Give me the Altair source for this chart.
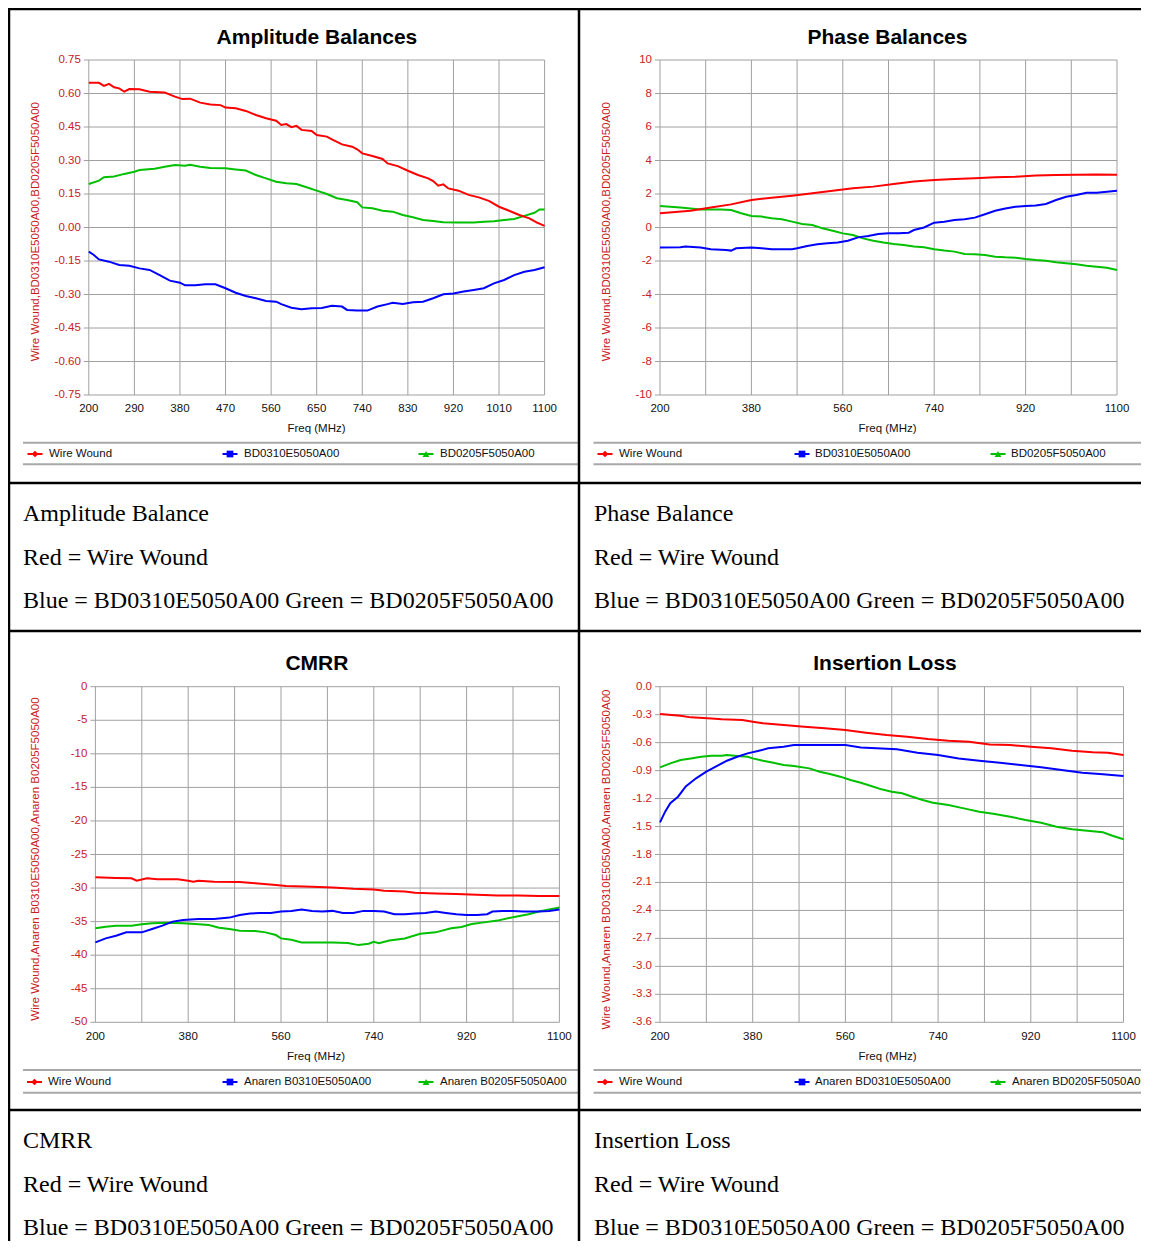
import altair as alt
import pandas as pd

# ---------------- data (frequency MHz, value) ----------------
FREQ_DOMAIN = [200, 1100]
X_GRID = [200, 290, 380, 470, 560, 650, 740, 830, 920, 1010, 1100]
AB_X_LABELS = [200, 290, 380, 470, 560, 650, 740, 830, 920, 1010, 1100]
WIDE_X_LABELS = [200, 380, 560, 740, 920, 1100]

AB_Y_TICKS = [-0.75, -0.60, -0.45, -0.30, -0.15, 0.0, 0.15, 0.30, 0.45, 0.60, 0.75]
PB_Y_TICKS = [-10, -8, -6, -4, -2, 0, 2, 4, 6, 8, 10]
CM_Y_TICKS = [-50, -45, -40, -35, -30, -25, -20, -15, -10, -5, 0]
IL_Y_TICKS = [-3.6, -3.3, -3.0, -2.7, -2.4, -2.1, -1.8, -1.5, -1.2, -0.9, -0.6, -0.3, 0.0]

AB_WIRE = [(200, 0.648), (220, 0.648), (230, 0.634), (240, 0.643), (250, 0.628), (260, 0.623),
           (270, 0.608), (280, 0.62), (300, 0.619), (320, 0.608), (350, 0.604), (370, 0.586),
           (385, 0.575), (400, 0.577), (420, 0.559), (440, 0.551), (460, 0.548), (470, 0.537),
           (490, 0.534), (510, 0.522), (530, 0.504), (550, 0.489), (570, 0.478), (580, 0.459),
           (590, 0.463), (600, 0.449), (610, 0.455), (620, 0.437), (640, 0.432), (650, 0.414),
           (670, 0.407), (680, 0.395), (700, 0.372), (720, 0.362), (730, 0.35), (740, 0.332),
           (760, 0.32), (780, 0.307), (790, 0.287), (810, 0.275), (830, 0.254), (850, 0.235),
           (870, 0.22), (880, 0.208), (890, 0.187), (900, 0.193), (910, 0.175), (930, 0.165),
           (950, 0.146), (970, 0.135), (990, 0.119), (1010, 0.093), (1030, 0.075), (1050, 0.056),
           (1070, 0.041), (1085, 0.022), (1100, 0.007)]
AB_BD0310 = [(200, -0.108), (210, -0.123), (220, -0.143), (240, -0.153), (260, -0.168), (280, -0.171),
             (300, -0.183), (320, -0.19), (340, -0.213), (360, -0.238), (380, -0.247), (390, -0.259),
             (410, -0.259), (430, -0.254), (450, -0.254), (470, -0.272), (490, -0.292), (510, -0.307),
             (530, -0.317), (550, -0.329), (570, -0.332), (580, -0.343), (600, -0.359), (620, -0.366),
             (640, -0.362), (660, -0.36), (680, -0.35), (700, -0.354), (710, -0.369), (730, -0.372),
             (750, -0.372), (770, -0.354), (790, -0.343), (800, -0.337), (820, -0.343), (840, -0.335),
             (860, -0.332), (880, -0.317), (900, -0.299), (920, -0.295), (940, -0.287), (960, -0.28),
             (980, -0.272), (1000, -0.25), (1020, -0.235), (1040, -0.213), (1060, -0.198),
             (1080, -0.19), (1100, -0.178)]
AB_BD0205 = [(200, 0.195), (220, 0.21), (230, 0.225), (250, 0.228), (270, 0.24), (290, 0.25),
             (300, 0.257), (330, 0.263), (350, 0.272), (370, 0.28), (390, 0.277), (400, 0.281),
             (420, 0.272), (440, 0.266), (470, 0.265), (490, 0.26), (510, 0.255), (530, 0.235),
             (550, 0.22), (570, 0.205), (590, 0.198), (610, 0.195), (630, 0.18), (650, 0.165),
             (670, 0.15), (690, 0.131), (710, 0.123), (730, 0.113), (740, 0.09), (760, 0.086),
             (780, 0.075), (800, 0.071), (820, 0.056), (840, 0.046), (860, 0.034), (880, 0.029),
             (900, 0.023), (930, 0.022), (960, 0.022), (980, 0.026), (1000, 0.028), (1020, 0.034),
             (1040, 0.038), (1060, 0.052), (1080, 0.066), (1090, 0.081), (1100, 0.081)]

PB_WIRE = [(200, 0.85), (260, 1.0), (300, 1.2), (340, 1.38), (380, 1.64), (420, 1.78), (460, 1.9),
           (500, 2.04), (540, 2.2), (580, 2.34), (620, 2.44), (660, 2.6), (700, 2.74), (740, 2.84),
           (780, 2.9), (820, 2.94), (860, 3.0), (900, 3.03), (940, 3.1), (980, 3.13), (1020, 3.15),
           (1060, 3.17), (1100, 3.15)]
PB_BD0310 = [(200, -1.2), (240, -1.18), (250, -1.14), (280, -1.2), (300, -1.3), (330, -1.34),
             (340, -1.38), (350, -1.24), (380, -1.2), (400, -1.24), (420, -1.3), (460, -1.3),
             (470, -1.24), (490, -1.1), (510, -1.0), (530, -0.94), (550, -0.9), (570, -0.79),
             (590, -0.59), (610, -0.51), (630, -0.39), (650, -0.35), (670, -0.35), (690, -0.31),
             (700, -0.15), (720, 0.0), (740, 0.29), (760, 0.35), (780, 0.45), (800, 0.49),
             (820, 0.59), (840, 0.79), (860, 1.0), (880, 1.14), (900, 1.24), (920, 1.28),
             (940, 1.32), (960, 1.4), (980, 1.64), (1000, 1.84), (1020, 1.94), (1040, 2.08),
             (1060, 2.08), (1080, 2.14), (1100, 2.2)]
PB_BD0205 = [(200, 1.28), (240, 1.2), (280, 1.08), (320, 1.08), (340, 1.04), (360, 0.85),
             (380, 0.69), (400, 0.65), (420, 0.55), (440, 0.49), (460, 0.35), (480, 0.21),
             (500, 0.15), (520, -0.05), (540, -0.19), (560, -0.35), (580, -0.45), (600, -0.65),
             (620, -0.79), (640, -0.9), (660, -0.98), (680, -1.04), (700, -1.14), (720, -1.18),
             (740, -1.3), (760, -1.38), (780, -1.44), (800, -1.58), (820, -1.6), (840, -1.64),
             (860, -1.74), (880, -1.78), (900, -1.8), (920, -1.88), (940, -1.94), (960, -1.98),
             (980, -2.08), (1000, -2.14), (1020, -2.2), (1040, -2.28), (1060, -2.34),
             (1080, -2.4), (1100, -2.54)]

CM_WIRE = [(200, -28.4), (240, -28.5), (270, -28.55), (280, -28.9), (300, -28.55), (320, -28.7),
           (360, -28.7), (380, -28.9), (390, -29.05), (400, -28.9), (430, -29.05), (480, -29.1),
           (510, -29.3), (550, -29.55), (570, -29.7), (620, -29.8), (660, -29.9), (700, -30.1),
           (740, -30.2), (760, -30.4), (800, -30.5), (820, -30.7), (860, -30.8), (900, -30.9),
           (940, -31.0), (980, -31.1), (1020, -31.1), (1060, -31.2), (1100, -31.2)]
CM_B0310 = [(200, -38.1), (220, -37.5), (240, -37.1), (260, -36.6), (290, -36.6), (310, -36.1),
            (330, -35.6), (350, -35.0), (370, -34.75), (400, -34.6), (430, -34.6), (460, -34.4),
            (480, -34.0), (500, -33.8), (520, -33.7), (540, -33.7), (560, -33.5), (580, -33.4),
            (600, -33.2), (620, -33.4), (640, -33.5), (660, -33.4), (680, -33.7), (700, -33.7),
            (720, -33.4), (740, -33.4), (760, -33.5), (780, -33.9), (800, -33.9), (820, -33.8),
            (840, -33.7), (860, -33.5), (880, -33.7), (900, -33.9), (920, -34.0), (940, -34.0),
            (960, -33.9), (970, -33.5), (990, -33.4), (1010, -33.4), (1030, -33.5), (1060, -33.5),
            (1080, -33.4), (1100, -33.2)]
CM_B0205 = [(200, -36.0), (220, -35.75), (240, -35.6), (270, -35.6), (290, -35.4), (310, -35.25),
            (340, -35.15), (370, -35.25), (400, -35.4), (420, -35.5), (440, -35.9), (460, -36.1),
            (480, -36.35), (510, -36.4), (530, -36.6), (550, -37.0), (560, -37.5), (580, -37.7),
            (600, -38.1), (620, -38.1), (660, -38.1), (690, -38.2), (710, -38.5), (730, -38.3),
            (740, -38.0), (750, -38.2), (770, -37.8), (800, -37.5), (830, -36.8), (860, -36.6),
            (890, -36.0), (910, -35.8), (930, -35.35), (950, -35.15), (980, -34.85), (1000, -34.5),
            (1020, -34.2), (1040, -33.9), (1060, -33.5), (1080, -33.2), (1100, -32.9)]

IL_WIRE = [(200, -0.293), (240, -0.311), (260, -0.329), (300, -0.34), (320, -0.35), (360, -0.358),
           (380, -0.375), (400, -0.393), (440, -0.411), (480, -0.429), (520, -0.447), (560, -0.465),
           (600, -0.493), (640, -0.518), (680, -0.536), (720, -0.561), (760, -0.579), (800, -0.59),
           (840, -0.619), (880, -0.626), (920, -0.644), (960, -0.661), (1000, -0.686),
           (1040, -0.704), (1070, -0.708), (1100, -0.733)]
IL_BD0310 = [(200, -1.455), (210, -1.34), (220, -1.25), (235, -1.18), (250, -1.07), (270, -0.983),
             (290, -0.912), (310, -0.851), (330, -0.794), (350, -0.751), (370, -0.715), (390, -0.69),
             (410, -0.661), (440, -0.644), (460, -0.626), (560, -0.626), (590, -0.651),
             (620, -0.661), (660, -0.672), (700, -0.708), (740, -0.733), (780, -0.769),
             (820, -0.794), (860, -0.815), (900, -0.84), (940, -0.865), (980, -0.894),
             (1020, -0.922), (1060, -0.94), (1100, -0.958)]
IL_BD0205 = [(200, -0.865), (220, -0.822), (240, -0.787), (260, -0.769), (280, -0.751), (300, -0.74),
             (320, -0.74), (330, -0.733), (350, -0.744), (370, -0.751), (380, -0.769), (400, -0.794),
             (420, -0.815), (440, -0.84), (460, -0.851), (490, -0.876), (510, -0.912), (530, -0.937),
             (550, -0.965), (570, -1.001), (590, -1.03), (610, -1.065), (630, -1.101), (650, -1.126),
             (670, -1.144), (690, -1.18), (710, -1.216), (730, -1.244), (760, -1.269), (790, -1.305),
             (820, -1.341), (850, -1.366), (880, -1.394), (910, -1.43), (940, -1.459), (970, -1.502),
             (1000, -1.53), (1030, -1.545), (1060, -1.562), (1080, -1.602), (1100, -1.637)]

# ---------------- styling / layout ----------------
OFF = 8                    # page margin: page coordinates -> canvas coordinates
W, H = 1133, 1233
FONT = "Liberation Sans"
SERIF = "Liberation Serif"
RED_TXT = "#c8201e"
GRID = "#a0a0a0"
LEG_LINE = "#a8a8a8"
C_RED, C_BLUE, C_GREEN = "#ff0000", "#0000ff", "#00c000"
SMALL = 11.5
ONE = pd.DataFrame({"k": [0]})

PANELS = [
    dict(title="Amplitude Balances", plot=(88.8, 544.6, 60, 395), ydom=[-0.75, 0.75],
         yticks=AB_Y_TICKS, yfmt=".2f", xlabels=AB_X_LABELS, title_x=316.9, title_y=37.5,
         xlab_y=408.5, xtitle_x=316.5, xtitle_y=428.5, ytitle_x=36, ytitle_y=231.7,
         ytitle="Wire Wound,BD0310E5050A00,BD0205F5050A00",
         series=[(AB_BD0205, C_GREEN), (AB_BD0310, C_BLUE), (AB_WIRE, C_RED)],
         leg=dict(top=442.7, bot=464.3, x0=23, x1=578, y=454,
                  items=[(35, 49, C_RED, "diamond", "Wire Wound"),
                         (230, 244, C_BLUE, "square", "BD0310E5050A00"),
                         (426, 440, C_GREEN, "triangle-up", "BD0205F5050A00")])),
    dict(title="Phase Balances", plot=(660, 1117, 60, 395), ydom=[-10, 10],
         yticks=PB_Y_TICKS, yfmt="d", xlabels=WIDE_X_LABELS, title_x=887.5, title_y=37.5,
         xlab_y=408.5, xtitle_x=887.5, xtitle_y=428.5, ytitle_x=607, ytitle_y=231.7,
         ytitle="Wire Wound,BD0310E5050A00,BD0205F5050A00",
         series=[(PB_BD0205, C_GREEN), (PB_BD0310, C_BLUE), (PB_WIRE, C_RED)],
         leg=dict(top=442.7, bot=464.3, x0=593.5, x1=1149, y=454,
                  items=[(605, 619, C_RED, "diamond", "Wire Wound"),
                         (802, 815, C_BLUE, "square", "BD0310E5050A00"),
                         (998, 1011, C_GREEN, "triangle-up", "BD0205F5050A00")])),
    dict(title="CMRR", plot=(95.4, 559.4, 686.7, 1022.3), ydom=[-50, 0],
         yticks=CM_Y_TICKS, yfmt="d", xlabels=WIDE_X_LABELS, title_x=316.9, title_y=664.3,
         xlab_y=1036.7, xtitle_x=316, xtitle_y=1056.7, ytitle_x=36, ytitle_y=859,
         ytitle="Wire Wound,Anaren B0310E5050A00,Anaren B0205F5050A00",
         series=[(CM_B0205, C_GREEN), (CM_B0310, C_BLUE), (CM_WIRE, C_RED)],
         leg=dict(top=1070, bot=1092.7, x0=23, x1=578, y=1082,
                  items=[(34.5, 48, C_RED, "diamond", "Wire Wound"),
                         (230, 244, C_BLUE, "square", "Anaren B0310E5050A00"),
                         (426, 440, C_GREEN, "triangle-up", "Anaren B0205F5050A00")])),
    dict(title="Insertion Loss", plot=(660, 1123.5, 686.7, 1022.3), ydom=[-3.6, 0],
         yticks=IL_Y_TICKS, yfmt=".1f", xlabels=WIDE_X_LABELS, title_x=885, title_y=664.3,
         xlab_y=1036.7, xtitle_x=887.5, xtitle_y=1056.7, ytitle_x=607, ytitle_y=859.5,
         ytitle="Wire Wound,Anaren BD0310E5050A00,Anaren BD0205F5050A00",
         series=[(IL_BD0205, C_GREEN), (IL_BD0310, C_BLUE), (IL_WIRE, C_RED)],
         leg=dict(top=1070, bot=1092.7, x0=593.5, x1=1149, y=1082,
                  items=[(605, 619, C_RED, "diamond", "Wire Wound"),
                         (802, 815, C_BLUE, "square", "Anaren BD0310E5050A00"),
                         (998, 1012, C_GREEN, "triangle-up", "Anaren BD0205F5050A00")])),
]

CELL_TEXT = [
    (23, [521, 565, 608], ["Amplitude Balance", "Red = Wire Wound",
                           "Blue = BD0310E5050A00 Green = BD0205F5050A00"]),
    (594, [521, 565, 608], ["Phase Balance", "Red = Wire Wound",
                            "Blue = BD0310E5050A00 Green = BD0205F5050A00"]),
    (23, [1148, 1192, 1235], ["CMRR", "Red = Wire Wound",
                              "Blue = BD0310E5050A00 Green = BD0205F5050A00"]),
    (594, [1148, 1192, 1235], ["Insertion Loss", "Red = Wire Wound",
                               "Blue = BD0310E5050A00 Green = BD0205F5050A00"]),
]


def c(v):
    return v - OFF


def text_at(txt, x, y, **kw):
    return alt.Chart(ONE).mark_text(text=txt, **kw).encode(x=alt.value(x), y=alt.value(y))


def build_panel(p):
    L, R, T, B = [c(v) for v in p["plot"]]
    xs = alt.Scale(domain=FREQ_DOMAIN, range=[L, R], nice=False, zero=False)
    ys = alt.Scale(domain=p["ydom"], range=[B, T], nice=False, zero=False)

    def X(f):
        return alt.X(f, type="quantitative", scale=xs, axis=None)

    def Y(f):
        return alt.Y(f, type="quantitative", scale=ys, axis=None)

    yt = pd.DataFrame({"t": p["yticks"], "lab": [format(v, p["yfmt"]) for v in p["yticks"]]})
    xg = pd.DataFrame({"t": X_GRID})
    xl = pd.DataFrame({"t": p["xlabels"], "lab": [str(v) for v in p["xlabels"]]})

    layers = [
        alt.Chart(yt).mark_rule(color=GRID, strokeWidth=1).encode(
            y=Y("t"), x=alt.value(L - 5), x2=alt.value(R)),
        alt.Chart(xg).mark_rule(color=GRID, strokeWidth=1).encode(
            x=X("t"), y=alt.value(T), y2=alt.value(B)),
        alt.Chart(yt).mark_text(align="right", baseline="middle", font=FONT, fontSize=SMALL,
                                color=RED_TXT).encode(
            y=Y("t"), x=alt.value(L - 8), text="lab:N"),
        alt.Chart(xl).mark_text(align="center", baseline="middle", font=FONT, fontSize=SMALL,
                                color="#111111").encode(
            x=X("t"), y=alt.value(c(p["xlab_y"])), text="lab:N"),
    ]
    for pairs, col in p["series"]:
        d = pd.DataFrame(pairs, columns=["f", "v"])
        layers.append(alt.Chart(d).mark_line(color=col, strokeWidth=2).encode(x=X("f"), y=Y("v")))
    return alt.layer(*layers)


def build_decor(p):
    out = [
        text_at(p["title"], c(p["title_x"]), c(p["title_y"]),
                font=FONT, fontSize=21, fontWeight="bold", align="center", baseline="middle",
                color="#000000"),
        text_at("Freq (MHz)", c(p["xtitle_x"]), c(p["xtitle_y"]), font=FONT, fontSize=SMALL,
                align="center", baseline="middle", color="#111111"),
        text_at(p["ytitle"], c(p["ytitle_x"]), c(p["ytitle_y"]), font=FONT, fontSize=SMALL,
                angle=270, align="center", baseline="middle", color=RED_TXT),
    ]
    lg = p["leg"]
    for yy in (lg["top"], lg["bot"]):
        out.append(alt.Chart(ONE).mark_rule(color=LEG_LINE, strokeWidth=2).encode(
            x=alt.value(c(lg["x0"])), x2=alt.value(c(lg["x1"])), y=alt.value(c(yy))))
    for cx, tx, col, shape, lab in lg["items"]:
        out.append(alt.Chart(ONE).mark_rule(color=col, strokeWidth=2).encode(
            x=alt.value(c(cx - 7.5)), x2=alt.value(c(cx + 7.5)), y=alt.value(c(lg["y"]))))
        out.append(alt.Chart(ONE).mark_point(shape=shape, filled=True, size=45, color=col,
                                             opacity=1).encode(
            x=alt.value(c(cx)), y=alt.value(c(lg["y"]))))
        out.append(text_at(lab, c(tx), c(lg["y"]), font=FONT, fontSize=SMALL, align="left",
                           baseline="middle", color="#111111"))
    return out


def build_table():
    out = []
    bw = 2.5
    out.append(alt.Chart(ONE).mark_rule(color="#000", strokeWidth=bw).encode(
        x=alt.value(0), x2=alt.value(W), y=alt.value(1)))
    out.append(alt.Chart(ONE).mark_rule(color="#000", strokeWidth=bw).encode(
        x=alt.value(1), y=alt.value(0), y2=alt.value(H)))
    out.append(alt.Chart(ONE).mark_rule(color="#000", strokeWidth=bw).encode(
        x=alt.value(c(579)), y=alt.value(0), y2=alt.value(H)))
    for yy in (483, 631, 1110):
        out.append(alt.Chart(ONE).mark_rule(color="#000", strokeWidth=bw).encode(
            x=alt.value(0), x2=alt.value(W), y=alt.value(c(yy))))
    for x0, ys_, lines in CELL_TEXT:
        for yy, t in zip(ys_, lines):
            out.append(text_at(t, c(x0), c(yy), font=SERIF, fontSize=24, align="left",
                               baseline="alphabetic", color="#000000"))
    return out


layers = []
for p in PANELS:
    layers.append(build_panel(p))
for p in PANELS:
    layers.extend(build_decor(p))
layers.extend(build_table())

chart = alt.layer(*layers).resolve_scale(x="independent", y="independent").properties(
    width=W, height=H, autosize=alt.AutoSizeParams(type="none"), padding=0
).configure_view(stroke=None)

chart.save("out.html", embed_options={"renderer": "svg", "actions": False})
